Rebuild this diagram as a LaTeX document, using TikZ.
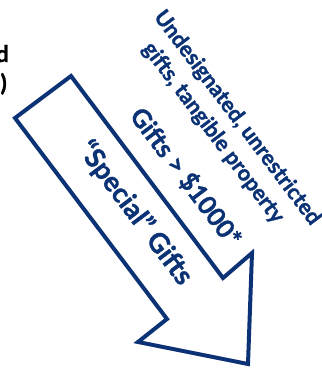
\documentclass[tikz,border=0pt]{standalone}
\usepackage{fontspec}
\setmainfont{Lato}[BoldFeatures={FakeBold=1.2}]
\usepackage{graphicx}
\definecolor{navy}{HTML}{0A3275}
\tikzset{
  arrowshape/.style={draw=navy, line width=4bp, line join=miter, fill=white},
  lbl/.style={text=navy, font=\bfseries, rotate=-53, inner sep=0pt},
  frag/.style={text=black, font=\bfseries\fontsize{23}{27}\selectfont, inner sep=0pt},
}
\begin{document}
\begin{tikzpicture}[x=1bp,y=-1bp]
\useasboundingbox (0,0) rectangle (322,371);
\clip (0,0) rectangle (322,371);
\node[frag, anchor=base east] (f1) at (9,62) {d};
\node[frag, anchor=base east] (f2) at (7,91) {)};
\draw[arrowshape] (71,76) coordinate (A) -- (15,118) coordinate (B) -- (167,319) coordinate (C) -- (138,342) coordinate (D) -- (248,364) coordinate (E) -- (252,253) coordinate (F) -- (223,278) coordinate (G) -- cycle;
\node[lbl] (big) at (186,177) {\resizebox{166bp}{!}{Gifts > \$1000*}};
\node[lbl] (spec) at (135,213) {\resizebox{172bp}{!}{“Special” Gifts}};
\node[lbl] (und) at (237,118) {\resizebox{262bp}{!}{Undesignated, unrestricted}};
\node[lbl] (gif) at (213,133) {\resizebox{220bp}{!}{gifts, tangible property}};
\end{tikzpicture}
\end{document}
